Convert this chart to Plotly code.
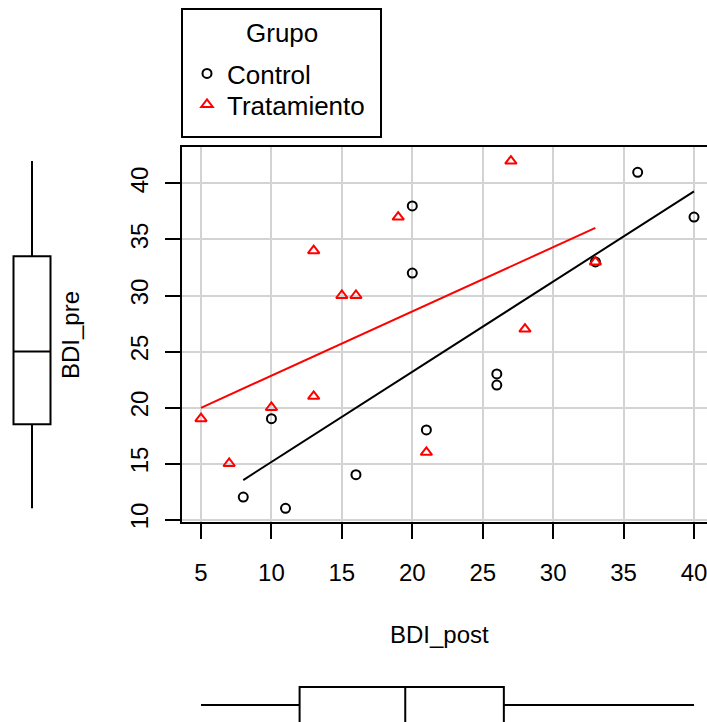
import numpy as np
import plotly.graph_objects as go

# BDI scores per group
control_post = [8, 11, 10, 16, 20, 20, 21, 26, 26, 36, 40, 33]
control_pre = [12, 11, 19, 14, 38, 32, 18, 23, 22, 41, 37, 33]
trat_post = [5, 7, 10, 13, 13, 15, 16, 19, 27, 33, 28, 21]
trat_pre = [19, 15, 20, 21, 34, 30, 30, 37, 42, 33, 27, 16]

group_names = ["Control", "Tratamiento"]
legend_title = "Grupo"
x_ticks = [5, 10, 15, 20, 25, 30, 35, 40]
y_ticks = [10, 15, 20, 25, 30, 35, 40]

W, H = 707, 722
FONT = "Liberation Sans, Arial, Helvetica, sans-serif"
FS = 24
LFS = 26


def px_x(p):
    return p / W


def px_y(p):
    return (H - p) / H


# main panel geometry (paper fractions)
x_dom = [px_x(182), 1.0]
y_dom = [px_y(522.2), px_y(147.2)]
x_rng = [3.651, 40.922]
y_rng = [9.76, 43.24]

fig = go.Figure()

groups = [
    (group_names[0], control_post, control_pre, "black", "circle-open", 9, "legend"),
    (group_names[1], trat_post, trat_pre, "red", "triangle-up-open", 10, "legend2"),
]

# least-squares line per group, over that group's range of BDI_post
for name, xs, ys, col, sym, sz, leg in groups:
    xs_a = np.array(xs, dtype=float)
    ys_a = np.array(ys, dtype=float)
    slope, icpt = np.polyfit(xs_a, ys_a, 1)
    xl = np.array([xs_a.min(), xs_a.max()])
    fig.add_trace(go.Scatter(
        x=xl, y=icpt + slope * xl, mode="lines",
        line=dict(color=col, width=2), showlegend=False, hoverinfo="skip",
        xaxis="x", yaxis="y"))

for name, xs, ys, col, sym, sz, leg in groups:
    fig.add_trace(go.Scatter(
        x=xs, y=ys, mode="markers", name=name, legend=leg,
        marker=dict(symbol=sym, size=sz, color=col, line=dict(color=col, width=2)),
        xaxis="x", yaxis="y"))

all_post = control_post + trat_post
all_pre = control_pre + trat_pre

# marginal boxplot for BDI_pre (left)
fig.add_trace(go.Box(
    y=all_pre, x0=32, width=37, xaxis="x2", yaxis="y2",
    boxpoints=False, quartilemethod="exclusive", whiskerwidth=0,
    fillcolor="white", line=dict(color="black", width=2),
    showlegend=False, hoverinfo="skip"))

# marginal boxplot for BDI_post (bottom)
fig.add_trace(go.Box(
    x=all_post, y0=0, width=36, orientation="h", xaxis="x3", yaxis="y3",
    boxpoints=False, quartilemethod="exclusive", whiskerwidth=0,
    fillcolor="white", line=dict(color="black", width=2),
    showlegend=False, hoverinfo="skip"))

tickfont = dict(family=FONT, size=FS, color="black")
legfont = dict(family=FONT, size=LFS, color="black")

fig.update_layout(
    width=W, height=H,
    margin=dict(l=0, r=0, t=0, b=0, pad=0),
    paper_bgcolor="white", plot_bgcolor="white",
    font=dict(family=FONT, size=FS, color="black"),
    xaxis=dict(
        domain=x_dom, range=x_rng, anchor="y",
        tickmode="array", tickvals=x_ticks, ticktext=[str(v) for v in x_ticks],
        ticks="outside", ticklen=15, tickwidth=2, tickcolor="black",
        ticklabelstandoff=13, ticklabeloverflow="allow", tickfont=tickfont,
        showline=True, linecolor="black", linewidth=2, mirror=True,
        showgrid=True, gridcolor="#d3d3d3", gridwidth=2,
        zeroline=False, automargin=False),
    yaxis=dict(
        domain=y_dom, range=y_rng, anchor="x",
        tickmode="array", tickvals=y_ticks, ticktext=[str(v) for v in y_ticks],
        ticks="outside", ticklen=15, tickwidth=2, tickcolor="black",
        tickangle=-90, ticklabelstandoff=7, ticklabeloverflow="allow",
        tickfont=tickfont,
        showline=True, linecolor="black", linewidth=2, mirror=False,
        showgrid=True, gridcolor="#d3d3d3", gridwidth=2,
        zeroline=False, automargin=False),
    xaxis2=dict(domain=[0, px_x(66)], range=[0, 66], anchor="y2",
                visible=False, fixedrange=True),
    yaxis2=dict(domain=y_dom, range=y_rng, anchor="x2",
                visible=False, fixedrange=True),
    xaxis3=dict(domain=x_dom, range=x_rng, anchor="y3",
                visible=False, fixedrange=True),
    yaxis3=dict(domain=[0, 0.1], range=[-17, 0.1 * H - 17], anchor="x3",
                visible=False, fixedrange=True),
    legend=dict(
        x=px_x(187), y=px_y(50), xanchor="left", yanchor="top",
        borderwidth=0, bgcolor="rgba(0,0,0,0)", font=legfont,
        itemsizing="trace"),
    legend2=dict(
        x=px_x(187), y=px_y(81), xanchor="left", yanchor="top",
        borderwidth=0, bgcolor="rgba(0,0,0,0)", font=legfont,
        itemsizing="trace"),
    shapes=[
        # legend frame
        dict(type="rect", xref="paper", yref="paper",
             x0=px_x(182), x1=px_x(381), y0=px_y(137), y1=px_y(9),
             line=dict(color="black", width=2), fillcolor="rgba(0,0,0,0)",
             layer="above"),
    ],
    annotations=[
        dict(text=legend_title, xref="paper", yref="paper",
             x=px_x(281.5), y=px_y(33), showarrow=False, font=legfont,
             xanchor="center", yanchor="middle"),
        dict(text="BDI_post", xref="paper", yref="paper",
             x=px_x(440), y=px_y(634),
             showarrow=False, font=dict(family=FONT, size=FS, color="black"),
             xanchor="center", yanchor="middle"),
        dict(text="BDI_pre", xref="paper", yref="paper",
             x=px_x(70), y=px_y(335), textangle=-90,
             showarrow=False, font=dict(family=FONT, size=FS, color="black"),
             xanchor="center", yanchor="middle"),
    ],
)

fig.write_html("out.html")
